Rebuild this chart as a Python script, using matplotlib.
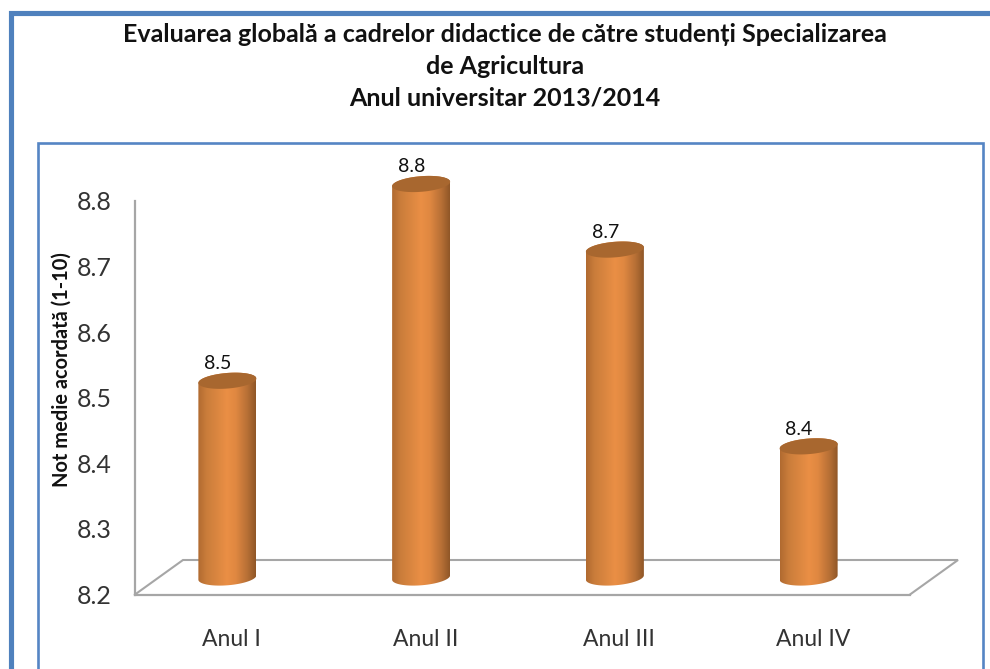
import numpy as np
import matplotlib
matplotlib.use("Agg")
import matplotlib.pyplot as plt
from matplotlib.colors import LinearSegmentedColormap
from matplotlib.patches import Polygon
from matplotlib.path import Path
from matplotlib.transforms import Affine2D

categories = ["Anul I", "Anul II", "Anul III", "Anul IV"]
values = [8.5, 8.8, 8.7, 8.4]
value_labels = ["8.5", "8.8", "8.7", "8.4"]
y_ticks = [8.2, 8.3, 8.4, 8.5, 8.6, 8.7, 8.8]
y_tick_labels = ["8.2", "8.3", "8.4", "8.5", "8.6", "8.7", "8.8"]
title = ("Evaluarea globală a cadrelor didactice de către studenți Specializarea\n"
         "de Agricultura\nAnul universitar 2013/2014")
y_label = "Not medie acordată (1-10)"

W, H = 990, 669
plt.rcParams["font.family"] = ["Lato", "DejaVu Sans"]
fig = plt.figure(figsize=(W / 100, H / 100), dpi=100, facecolor="white")

# Pixel-space layer for frames and floor
bg = fig.add_axes([0, 0, 1, 1], zorder=0)
bg.set_xlim(0, W)
bg.set_ylim(H, 0)
bg.axis("off")
BLUE = "#4f81bd"
GREY = "#a6a6a6"
bg.plot([11, 11, W + 5], [H + 5, 12.5, 12.5], color=BLUE, lw=3.7, solid_joinstyle="miter")
bg.plot([38, 38, 983, 983], [H + 5, 142.5, 142.5, H + 5], color="#5585c4", lw=1.9,
        solid_joinstyle="miter")
bg.plot([135, 183, 958, 910], [594.5, 560, 560, 594.5], color=GREY, lw=1.5,
        solid_joinstyle="miter")

# Chart axes
ax = fig.add_axes([135 / W, 1 - 594.5 / H, (910 - 135) / W, (594.5 - 201) / H], zorder=1)
ax.patch.set_alpha(0)
for side in ("top", "right"):
    ax.spines[side].set_visible(False)
for side in ("left", "bottom"):
    ax.spines[side].set_color(GREY)
    ax.spines[side].set_linewidth(1.6)

x = np.arange(len(categories))
ax.set_xlim(-0.5, 3.5)
ax.set_ylim(8.2, 8.8)
ax.set_xticks(x, categories, fontsize=16.5, color="#333333")
ax.set_yticks(y_ticks, y_tick_labels, fontsize=18, color="#333333")
ax.tick_params(axis="x", length=0, pad=25)
ax.tick_params(axis="y", length=0, pad=17)

# Cylinder geometry in chart units
px_x = 775 / 4
px_y = 393.5 / 0.6
half_w = 29 / px_x
ell_h = 7.8 / px_y
tilt = 2.2 / px_y
shift = Affine2D().translate(-4.5, 17)
tr = ax.transData + shift

cmap = LinearSegmentedColormap.from_list(
    "cyl",
    [(0, "#b06a30"), (0.15, "#ca7d3b"), (0.5, "#ea8f45"), (0.65, "#e08841"),
     (0.85, "#b87036"), (1, "#8f5627")],
)
gradient = np.linspace(0, 1, 256).reshape(1, -1)
base = y_ticks[0]


def arc(cx, cy, t):
    return np.column_stack([cx + half_w * np.cos(t),
                            cy + ell_h * np.sin(t) + tilt * np.cos(t)])


for xi, v, lab in zip(x, values, value_labels):
    t_low = np.linspace(np.pi, 2 * np.pi, 50)
    t_high = np.linspace(0, np.pi, 50)
    verts = np.vstack([arc(xi, base, t_low), arc(xi, v, t_high)])
    body = Polygon(verts, closed=True, facecolor="none", edgecolor="none",
                   transform=tr, zorder=3, clip_on=False)
    ax.add_patch(body)
    im = ax.imshow(gradient, cmap=cmap, aspect="auto", zorder=3, interpolation="bilinear",
                   extent=(xi - half_w, xi + half_w, base - 2 * ell_h, v + 2 * ell_h))
    im.set_transform(tr)
    im.set_clip_box(fig.bbox)
    im.set_clip_path(Path(verts), tr)
    cap = Polygon(arc(xi, v, np.linspace(0, 2 * np.pi, 100)), closed=True,
                  facecolor="#a8672f", edgecolor="none", transform=tr,
                  zorder=4, clip_on=False)
    ax.add_patch(cap)
    ax.annotate(lab, xy=(xi, v), xytext=(-14, 34), textcoords="offset pixels",
                ha="center", va="center", fontsize=14, color="#111111",
                annotation_clip=False, zorder=5)

ax.set_xlim(-0.5, 3.5)
ax.set_ylim(8.2, 8.8)

fig.text(505 / W, 1 - 66 / H, title, ha="center", va="center", fontsize=18,
         fontweight="bold", color="#111111", linespacing=1.45)
fig.text(62 / W, 1 - 370 / H, y_label, rotation=90, ha="center", va="center",
         fontsize=14.4, fontweight="bold", color="#111111")

fig.savefig("out.png", dpi=100, facecolor="white")
